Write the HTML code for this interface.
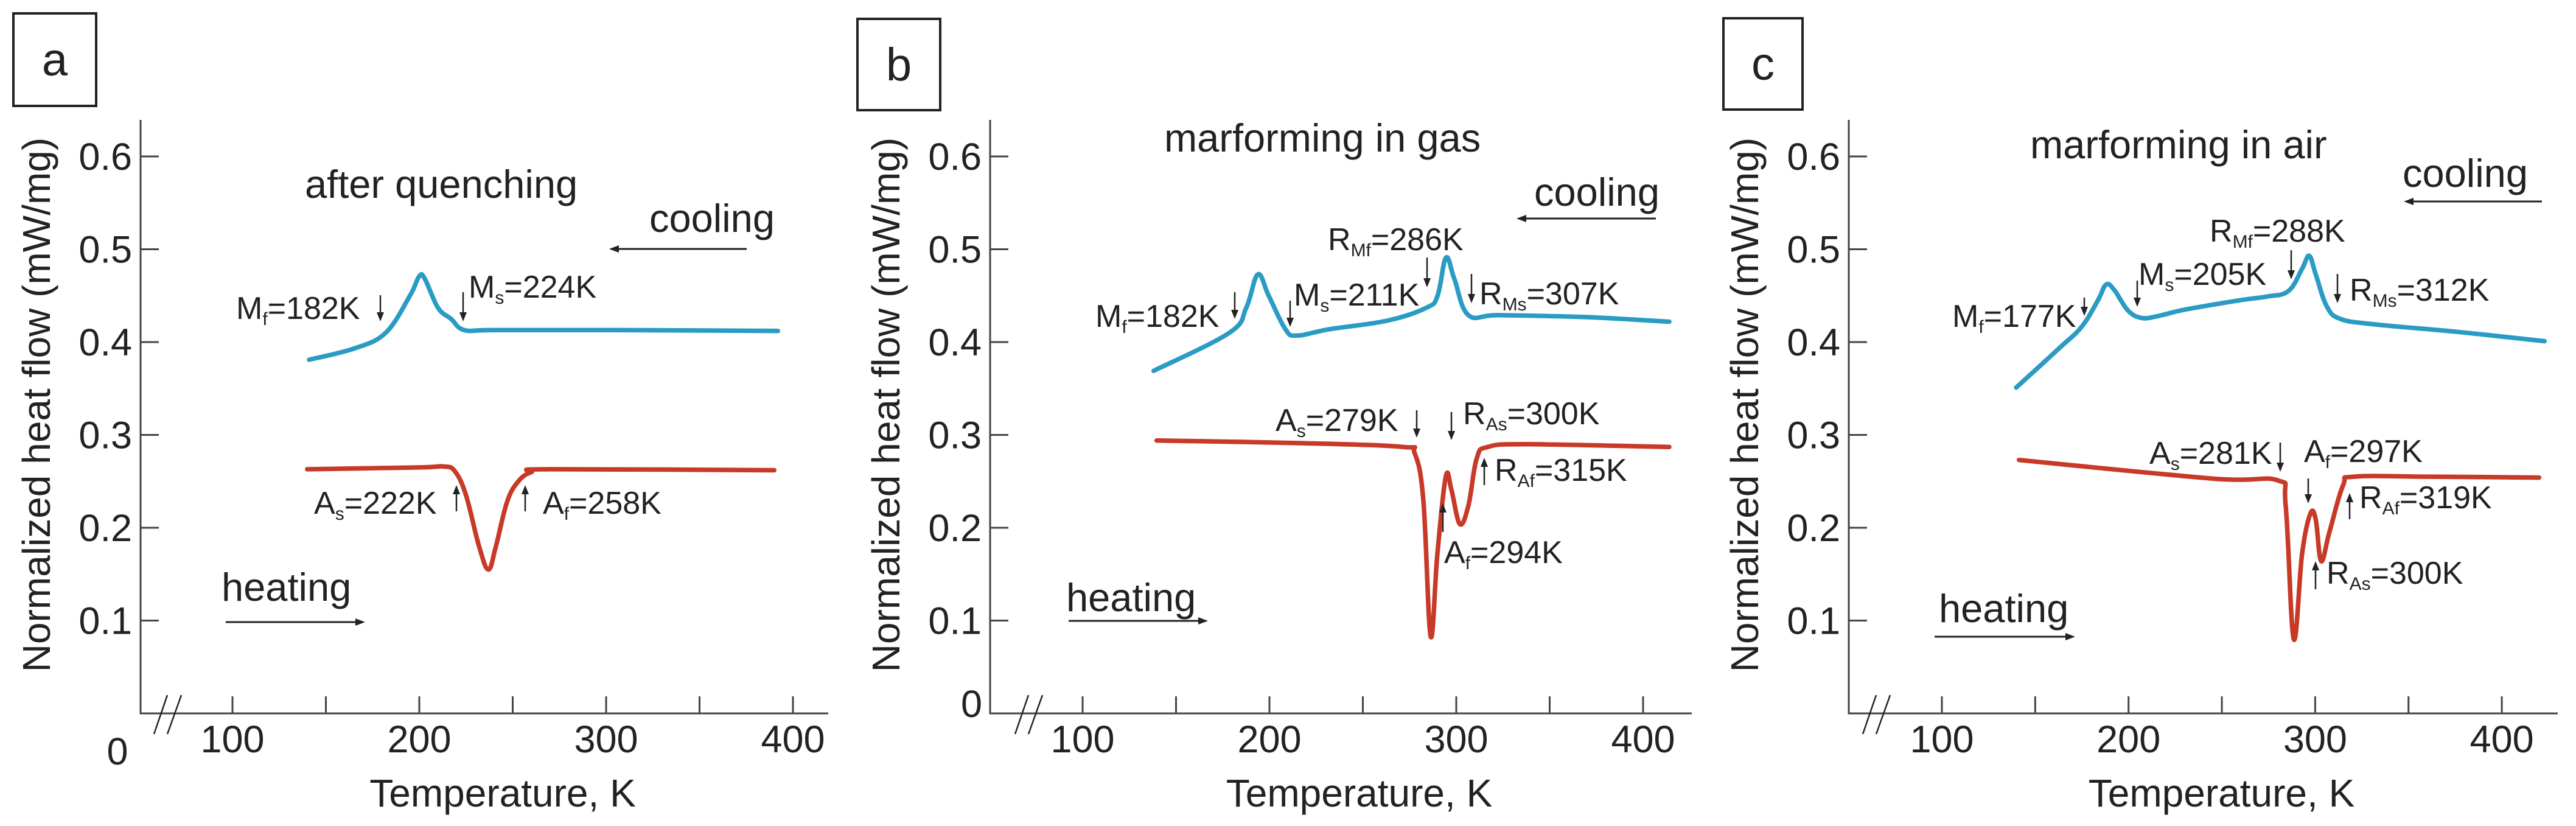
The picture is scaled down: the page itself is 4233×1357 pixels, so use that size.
<!DOCTYPE html>
<html><head><meta charset="utf-8">
<style>
html,body{margin:0;padding:0;background:#fff;}
svg{display:block;font-family:"Liberation Sans",Arial,sans-serif;}
</style></head>
<body>
<svg id="fig" xmlns="http://www.w3.org/2000/svg" width="4233" height="1357" viewBox="0 0 4233 1357">
<rect width="4233" height="1357" fill="#fff"/>
</svg>
<script>
// ---- data ----
const yTicks = [0.1, 0.2, 0.3, 0.4, 0.5, 0.6];
const yTickLabels = ["0.1", "0.2", "0.3", "0.4", "0.5", "0.6"];
const xTicks = [100, 150, 200, 250, 300, 350, 400];
const xTickLabelVals = [100, 200, 300, 400];
const xTickLabels = ["100", "200", "300", "400"];

const aCoolT = [141,165,182,195,200,203,210,217,224,240,300,392];
const aCoolV = [0.381,0.393,0.41,0.45,0.471,0.468,0.437,0.425,0.413,0.413,0.413,0.412];
const aHeatT = [140,200,213,219,225,232,237,241,247,253,260,270,390];
const aHeatV = [0.263,0.265,0.266,0.261,0.235,0.18,0.155,0.18,0.228,0.250,0.260,0.263,0.262];

const bCoolT = [138,178.5,187.6,193.8,199.6,208.5,214.7,232.6,262.9,284,290,294.5,299,306.5,323,368,414];
const bCoolV = [0.369,0.41,0.437,0.473,0.45,0.414,0.407,0.414,0.423,0.437,0.45,0.491,0.468,0.429,0.429,0.427,0.422];
const bHeatT = [139.6,220,271.7,277.8,282.4,286.3,289.9,294.4,297.4,301.9,306.5,311,316.9,338,414];
const bHeatV = [0.294,0.291,0.287,0.28,0.229,0.083,0.172,0.255,0.241,0.204,0.224,0.275,0.287,0.29,0.287];

const cCoolT = [139.8,163.2,174.9,183.6,188,192.4,199.7,207,215.7,230.3,259.4,274,285.7,293,296.8,300.3,306.1,313.4,332.4,376.2,422.9];
const cCoolV = [0.351,0.394,0.4165,0.445,0.462,0.456,0.434,0.426,0.428,0.435,0.445,0.449,0.455,0.479,0.493,0.473,0.439,0.425,0.419,0.411,0.401];
const cHeatT = [141.3,244.9,279.9,284.2,288.5,293,297.4,300.3,303.2,307.6,315,320.8,361.6,420];
const cHeatV = [0.273,0.253,0.251,0.224,0.080,0.172,0.215,0.209,0.164,0.195,0.246,0.255,0.255,0.254];

// ---- drawing ----
const NS = "http://www.w3.org/2000/svg";
const svg = document.getElementById('fig');
const BLUE = "#2a9cc4", RED = "#c83a28", INK = "#222";
function mk(tag, attrs, parent, text){
  const e = document.createElementNS(NS, tag);
  for (const k in attrs) e.setAttribute(k, attrs[k]);
  if (text !== undefined) e.textContent = text;
  (parent || svg).appendChild(e);
  return e;
}
const panels = [
  {id:'a', ax:231, x100:382, kx:3.07, axEnd:1361, box:[20,20,140,156], zero:[193,1256,'middle'], brk:253,
   title:['after quenching',501,325], cool:[1067,381,1227,1001,409], heat:[364,987,371,600,1022],
   ct:aCoolT, cv:aCoolV, ht:aHeatT, hv:aHeatV,
   notes:[['M','f','=182K',388,524,625,485,528],['M','s','=224K',770,489,761,480,528],
          ['A','s','=222K',516,844,750,840,797],['A','f','=258K',892,844,863,840,797]]},
  {id:'b', ax:1627, x100:1779, kx:3.07, axEnd:2780, box:[1407,29,140,154], zero:[1614,1178,'end'], brk:1668,
   title:['marforming in gas',1913,249], cool:[2521,338,2721,2492,359], heat:[1752,1004,1756,1985,1020],
   ct:bCoolT, cv:bCoolV, ht:bHeatT, hv:bHeatV,
   notes:[['M','f','=182K',1800,537,2029,480,524],['M','s','=211K',2126,502,2120,494,537],
          ['R','Mf','=286K',2182,411,2345,423,472],['R','Ms','=307K',2431,500,2418,450,498],
          ['A','s','=279K',2096,708,2328,674,719],['R','As','=300K',2404,697,2385,677,723],
          ['R','Af','=315K',2456,790,2439,797,752],['A','f','=294K',2373,925,2371,874,827]]},
  {id:'c', ax:3038, x100:3191, kx:3.067, axEnd:4203, box:[2830,28,134,154], zero:null, brk:3061,
   title:['marforming in air',3336,260], cool:[3948,307,4177,3950,331], heat:[3186,1022,3179,3410,1046],
   ct:cCoolT, cv:cCoolV, ht:cHeatT, hv:cHeatV,
   notes:[['M','f','=177K',3208,537,3425,489,519],['M','s','=205K',3514,468,3512,461,504],
          ['R','Mf','=288K',3631,397,3765,411,459],['R','Ms','=312K',3861,494,3841,450,498],
          ['A','s','=281K',3532,762,3747,727,775],['A','f','=297K',3786,759,3793,786,827],
          ['R','Af','=319K',3877,835,3861,853,810],['R','As','=300K',3823,959,3805,968,922]]}
];
const Y0 = 1172, KY = 1525;
function yS(v){ return Y0 - v*KY; }

function smoothPath(pts){
  let d = `M${pts[0][0].toFixed(1)},${pts[0][1].toFixed(1)}`;
  for (let i=0;i<pts.length-1;i++){
    const p0=pts[i-1]||pts[i], p1=pts[i], p2=pts[i+1], p3=pts[i+2]||p2;
    const t=0.18;
    const c1=[p1[0]+(p2[0]-p0[0])*t, p1[1]+(p2[1]-p0[1])*t];
    const c2=[p2[0]-(p3[0]-p1[0])*t, p2[1]-(p3[1]-p1[1])*t];
    d += ` C${c1[0].toFixed(1)},${c1[1].toFixed(1)} ${c2[0].toFixed(1)},${c2[1].toFixed(1)} ${p2[0].toFixed(1)},${p2[1].toFixed(1)}`;
  }
  return d;
}
function hArrow(g, x1, x2, y){
  mk('line',{x1:x1,y1:y,x2:x2+(x2>x1?-12:12),y2:y,stroke:INK,'stroke-width':3},g);
  const dir = x2>x1?1:-1;
  mk('polygon',{points:`${x2},${y} ${x2-dir*16},${y-6} ${x2-dir*16},${y+6}`,fill:INK},g);
}
function vArrow(g, x, y1, y2){
  const dir = y2>y1?1:-1;
  mk('line',{x1:x,y1:y1,x2:x,y2:y2-dir*10,stroke:INK,'stroke-width':2.5},g);
  mk('polygon',{points:`${x},${y2} ${x-6},${y2-dir*15} ${x+6},${y2-dir*15}`,fill:INK},g);
}

panels.forEach(p=>{
  const xS = T => p.x100 + (T-100)*p.kx;
  const g = mk('g',{});
  
  
  const bx = mk('rect',{x:p.box[0]+2,y:p.box[1]+2,width:p.box[2]-4,height:p.box[3]-4,fill:'none',stroke:INK,'stroke-width':4},g);
  
  
  const bl = mk('text',{x:p.box[0]+p.box[2]/2,y:p.box[1]+p.box[3]/2+26,'font-size':76,'text-anchor':'middle',fill:INK},g,p.id);
  
  
  const ya = mk('line',{x1:p.ax,y1:197,x2:p.ax,y2:Y0+1.5,stroke:'#444','stroke-width':3},g);
  
  
  const xa = mk('line',{x1:p.ax-1.5,y1:Y0,x2:p.axEnd,y2:Y0,stroke:'#444','stroke-width':3},g);
  
  
  yTicks.forEach((v,i)=>{
    const t = mk('line',{x1:p.ax,y1:yS(v),x2:p.ax+30,y2:yS(v),stroke:'#444','stroke-width':3},g);
    
    
    const l = mk('text',{x:p.ax-14,y:yS(v)+22,'font-size':63,'text-anchor':'end',fill:INK},g,yTickLabels[i]);
    
    
  });
  xTicks.forEach(T=>{
    const t = mk('line',{x1:xS(T),y1:Y0,x2:xS(T),y2:Y0-28,stroke:'#444','stroke-width':3},g);
    
    
  });
  xTickLabelVals.forEach((T,i)=>{
    const l = mk('text',{x:xS(T),y:1236,'font-size':63,'text-anchor':'middle',fill:INK},g,xTickLabels[i]);
    
    
  });
  if (p.zero){
    const z = mk('text',{x:p.zero[0],y:p.zero[1],'font-size':63,'text-anchor':p.zero[2],fill:INK},g,'0');
    
    
  }
  const br = mk('path',{d:`M${p.brk},1206 L${p.brk+22},1142 M${p.brk+22},1206 L${p.brk+45},1142`,stroke:INK,'stroke-width':2.5,fill:'none'},g);
  
  
  const xt = mk('text',{x:(p.ax+p.axEnd)/2+30,y:1325,'font-size':64,'text-anchor':'middle',fill:INK},g,'Temperature, K');
  
  
  const ycx = p.ax-171, ycy = 665;
  const yt = mk('text',{x:ycx,y:ycy,'font-size':64,'text-anchor':'middle',fill:INK,transform:`rotate(-90 ${ycx} ${ycy}) translate(0 22)`},g,'Normalized heat flow (mW/mg)');
  
  
  const ct = mk('text',{x:p.title[1],y:p.title[2],'font-size':65,fill:INK},g,p.title[0]);
  
  
  const cl = mk('text',{x:p.cool[0],y:p.cool[1],'font-size':65,fill:INK},g,'cooling');
  
  
  hArrow(g,p.cool[2],p.cool[3],p.cool[4]);
  const hl = mk('text',{x:p.heat[0],y:p.heat[1],'font-size':65,fill:INK},g,'heating');
  
  
  hArrow(g,p.heat[2],p.heat[3],p.heat[4]);
  const cpts = p.ct.map((T,i)=>[xS(T), yS(p.cv[i])]);
  const hpts = p.ht.map((T,i)=>[xS(T), yS(p.hv[i])]);
  const cc = mk('path',{d:smoothPath(cpts),fill:'none',stroke:BLUE,'stroke-width':7.5,'stroke-linejoin':'round','stroke-linecap':'round'},g);
  
  
  const hc = mk('path',{d:smoothPath(hpts),fill:'none',stroke:RED,'stroke-width':7.5,'stroke-linejoin':'round','stroke-linecap':'round'},g);
  
  
  p.notes.forEach(n=>{
    const t = mk('text',{x:n[3],y:n[4],'font-size':52,fill:INK},g);
    
    
    mk('tspan',{},t,n[0]);
    mk('tspan',{'font-size':30,dy:10},t,n[1]);
    mk('tspan',{dy:-10},t,n[2]);
    vArrow(g,n[5],n[6],n[7]);
  });
});
</script>
</body></html>
